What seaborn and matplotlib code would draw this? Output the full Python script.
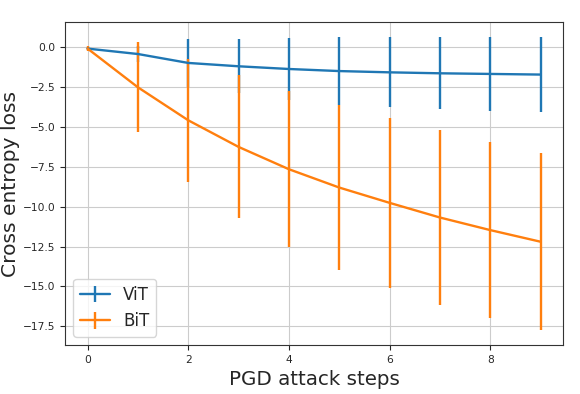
import numpy as np
import matplotlib
matplotlib.use("Agg")
import matplotlib.pyplot as plt
import seaborn as sns

# PGD steps
steps = [0, 1, 2, 3, 4, 5, 6, 7, 8, 9]

# ViT mean loss and error
vit_loss = [-0.08, -0.42, -0.98, -1.19, -1.36, -1.49, -1.57, -1.63, -1.67, -1.71]
vit_err = [0.1, 0.5, 1.48, 1.7, 1.97, 2.13, 2.2, 2.26, 2.3, 2.34]

# BiT mean loss and error
bit_loss = [-0.08, -2.51, -4.58, -6.25, -7.65, -8.8, -9.76, -10.68, -11.47, -12.2]
bit_err = [0.17, 2.83, 3.87, 4.49, 4.88, 5.15, 5.32, 5.47, 5.52, 5.57]

sns.set_style("ticks")
pal = sns.color_palette("tab10")

fig, ax = plt.subplots(figsize=(5.8, 3.94), dpi=100)
fig.subplots_adjust(left=0.112, right=0.971, top=0.943, bottom=0.124)

ax.errorbar(steps, vit_loss, yerr=vit_err, color=pal[0], lw=1.7, elinewidth=1.7, label="ViT")
ax.errorbar(steps, bit_loss, yerr=bit_err, color=pal[1], lw=1.7, elinewidth=1.7, label="BiT")

ax.grid(True, color="#cccccc", lw=0.8)
for s in ax.spines.values():
    s.set_color("#333333")
ax.tick_params(labelsize=7.7, length=3.5)
ax.set_xlabel("PGD attack steps", fontsize=14.3)
ax.set_ylabel("Cross entropy loss", fontsize=14.6, labelpad=2)
ax.legend(loc="lower left", fontsize=12, handlelength=1.8)

fig.savefig("out.png", dpi=100)
